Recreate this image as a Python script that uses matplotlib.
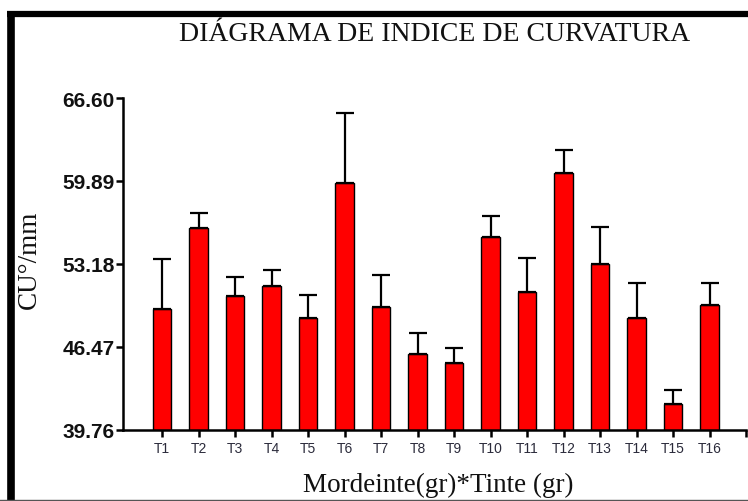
import numpy as np
import matplotlib
matplotlib.use("Agg")
import matplotlib.pyplot as plt
from matplotlib.lines import Line2D

# ---- data ----
labels = ["T1", "T2", "T3", "T4", "T5", "T6", "T7", "T8",
          "T9", "T10", "T11", "T12", "T13", "T14", "T15", "T16"]
means = [49.54, 56.07, 50.62, 51.38, 48.81, 59.70, 49.68, 45.93,
         45.18, 55.34, 50.94, 60.56, 53.20, 48.81, 41.86, 49.89]
errors = [4.04, 1.21, 1.53, 1.31, 1.86, 5.71, 2.61, 1.65,
          1.23, 1.74, 2.72, 1.86, 2.95, 2.83, 1.16, 1.75]
yticks = [39.76, 46.47, 53.18, 59.89, 66.60]

title = "DIÁGRAMA DE INDICE DE CURVATURA"
xlabel = "Mordeinte(gr)*Tinte (gr)"
ylabel = "CU°/mm"

serif = "Liberation Serif"
sans = "Liberation Sans"

# ---- figure ----
fig = plt.figure(figsize=(7.48, 5.02), dpi=100)
W, H = 748, 502
ax = fig.add_axes([123 / W, (H - 431) / H, (746 - 123) / W, (431 - 99) / H])

x = np.arange(1, len(labels) + 1)
ax.bar(x, means, width=0.5, color="#ff0000", edgecolor="black", linewidth=1.0, zorder=2)
ax.errorbar(x, means, yerr=[np.zeros(len(errors)), errors], fmt="none",
            ecolor="black", elinewidth=1.6, capsize=6.8, capthick=1.6, zorder=3)

ax.set_ylim(yticks[0], yticks[-1])
ax.set_xlim(-0.07, 17.0)
ax.set_yticks(yticks)
ax.set_yticklabels([f"{v:.2f}" for v in yticks], fontfamily=sans,
                   fontweight="bold", fontsize=15, color="#111111")
ax.set_xticks(x)
ax.set_xticklabels(labels, fontfamily=sans, fontsize=10, color="#2b2b3b")
ax.set_xticks([17.0], minor=True)

for s in ["top", "right"]:
    ax.spines[s].set_visible(False)
for s in ["left", "bottom"]:
    ax.spines[s].set_linewidth(1.8)
ax.tick_params(axis="both", which="both", width=1.8, length=5, direction="out")
ax.tick_params(axis="y", pad=1)
ax.tick_params(axis="x", pad=3)

# titles and labels
fig.text(435 / W, 1 - 35 / H, title, ha="center", va="center",
         fontfamily=serif, fontsize=20, color="#111111")
fig.text(438 / W, 1 - 485 / H, xlabel, ha="center", va="center",
         fontfamily=serif, fontsize=19.5, color="#111111")
fig.text(29 / W, 1 - 260 / H, ylabel, ha="center", va="center", rotation=90,
         fontfamily=serif, fontsize=19.5, color="#111111")

# page frame: thick left and top border, thin grey bottom line
fig.add_artist(Line2D([10.5 / W, 10.5 / W], [1 - 12 / H, 0], transform=fig.transFigure,
                      color="black", linewidth=5.5, solid_capstyle="butt"))
fig.add_artist(Line2D([7 / W, 1], [1 - 15 / H, 1 - 15 / H], transform=fig.transFigure,
                      color="black", linewidth=4.5, solid_capstyle="butt"))
fig.add_artist(Line2D([0, 1], [1 - 500.5 / H, 1 - 500.5 / H], transform=fig.transFigure,
                      color="#555555", linewidth=1.0))

fig.savefig("out.png", dpi=100)
